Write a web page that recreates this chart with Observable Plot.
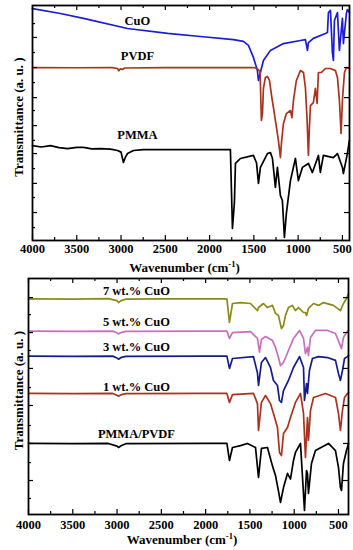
<!DOCTYPE html>
<html><head><meta charset="utf-8">
<script src="https://cdn.jsdelivr.net/npm/d3@7"></script>
<script src="https://cdn.jsdelivr.net/npm/@observablehq/plot@0.6"></script>
<style>
body{margin:0;background:#fff;}
#chart{width:353px;height:550px;}
#chart svg{display:block;}
#chart svg text{font-family:'Liberation Serif','Times New Roman',serif;font-weight:700;fill:#000;}
</style></head><body><div id="chart"></div>
<script>
// x-axis tick labels (wavenumber, cm-1)
const xMajor = [4000, 3500, 3000, 2500, 2000, 1500, 1000, 500];
const xMinor = [3750, 3250, 2750, 2250, 1750, 1250, 750];

// ---- top panel: pure materials [wavenumber, transmittance a.u.]
const cuo = [[4000,98.7],[3684,96.6],[3424,94.5],[2927,90.2],[2474,88.1],[2103,86.8],[1731,85.5],[1618,84.7],[1561,83.0],[1505,77.9],[1460,72.3],[1448,68.1],[1426,71.5],[1392,76.6],[1313,80.9],[1166,83.8],[974,85.1],[918,85.5],[895,80.9],[884,84.2],[828,86.0],[692,88.1],[669,88.5],[658,97.0],[635,97.9],[613,80.0],[602,76.6],[590,93.6],[556,97.0],[534,80.9],[500,94.5],[489,83.8],[455,96.6],[444,98.3],[421,97.0]];
const pvdf = [[4000,73.6],[3500,73.5],[3100,73.6],[3040,73.2],[3025,72.2],[3010,73.0],[2985,72.8],[2960,73.4],[2500,73.6],[2000,73.6],[1505,73.6],[1466,73.2],[1430,72.0],[1415,51.1],[1403,54.0],[1392,64.7],[1370,69.4],[1347,69.8],[1324,68.1],[1297,60.8],[1279,56.6],[1245,48.1],[1223,42.6],[1200,35.3],[1189,41.3],[1166,49.8],[1133,54.0],[1087,55.3],[1070,52.3],[1053,59.6],[1020,68.1],[974,72.3],[940,71.5],[918,65.1],[900,52.3],[884,36.2],[873,48.1],[861,57.4],[828,58.7],[805,64.7],[786,58.3],[771,71.5],[737,71.5],[692,73.2],[635,73.2],[579,72.3],[556,69.4],[534,59.6],[515,45.5],[500,59.6],[477,71.5],[455,73.6],[421,73.2]];
const pmma = [[4000,40.4],[3900,39.8],[3797,40.4],[3700,39.5],[3605,39.1],[3500,39.6],[3424,39.6],[3330,39.0],[3232,39.1],[3119,38.9],[3040,38.3],[3000,37.6],[2973,33.2],[2950,35.5],[2927,37.0],[2860,38.3],[2747,38.7],[2500,38.7],[2000,38.7],[1765,38.7],[1742,5.1],[1720,16.0],[1708,32.8],[1652,34.9],[1505,36.2],[1470,33.0],[1448,24.3],[1426,31.1],[1347,37.0],[1313,37.4],[1290,34.9],[1257,22.6],[1234,31.1],[1200,19.1],[1178,17.0],[1155,1.3],[1133,11.5],[1087,25.5],[1031,34.9],[997,25.5],[952,31.1],[884,32.8],[839,28.9],[771,36.2],[749,29.0],[715,36.2],[602,35.3],[556,37.0],[500,31.1],[489,28.5],[444,37.0],[421,42.6]];

// ---- bottom panel: composites
const cuo7 = [[4000,91.4],[3500,91.3],[3100,91.5],[3000,90.6],[2984,89.8],[2960,90.5],[2900,91.3],[2500,91.4],[2000,91.4],[1760,91.4],[1731,81.4],[1697,89.4],[1607,89.8],[1494,89.4],[1415,86.4],[1403,87.7],[1347,89.4],[1302,87.7],[1245,88.6],[1211,85.2],[1178,84.3],[1144,78.8],[1121,80.1],[1099,84.3],[1065,87.7],[1020,88.6],[986,86.4],[952,87.7],[895,85.6],[873,85.6],[861,84.3],[839,87.3],[782,89.4],[726,88.6],[669,89.8],[557,88.6],[478,86.4],[444,89.4],[410,91.5],[387,93.6]];
const cuo5 = [[4000,77.7],[3500,77.6],[3050,77.7],[3000,77.0],[2984,76.5],[2950,77.2],[2900,77.6],[2000,77.7],[1760,77.7],[1731,74.6],[1697,77.1],[1494,77.5],[1415,74.6],[1392,68.8],[1370,74.2],[1324,75.4],[1245,73.7],[1211,70.8],[1178,66.5],[1155,63.1],[1121,64.4],[1065,69.5],[1008,74.6],[940,78.0],[895,74.6],[873,68.2],[850,70.8],[839,67.4],[816,75.0],[760,78.0],[624,78.0],[534,76.7],[489,72.5],[466,70.3],[444,75.0],[410,77.1],[387,78.0]];
const cuo3 = [[4000,67.1],[3500,67.0],[3050,67.1],[3000,66.3],[2984,65.8],[2950,66.6],[2900,67.0],[2000,67.1],[1760,67.1],[1731,61.9],[1697,66.1],[1460,66.9],[1415,60.0],[1403,54.7],[1370,64.4],[1324,66.5],[1268,62.3],[1234,56.8],[1189,54.7],[1166,48.3],[1144,47.5],[1121,52.5],[1065,56.8],[1008,62.3],[940,66.9],[895,62.3],[884,48.3],[861,55.5],[850,51.3],[828,61.0],[794,66.1],[726,66.9],[624,66.5],[534,65.3],[500,59.7],[478,56.8],[455,61.0],[432,66.1],[399,66.9],[387,67.4]];
const cuo1 = [[4000,51.3],[3500,51.2],[3050,51.3],[3000,50.5],[2984,50.1],[2950,50.8],[2900,51.2],[2000,51.3],[1760,51.3],[1731,47.5],[1697,50.8],[1460,51.3],[1415,47.0],[1403,35.6],[1370,47.5],[1324,50.4],[1268,47.0],[1234,42.8],[1189,36.9],[1166,26.3],[1144,25.0],[1121,34.3],[1076,36.9],[1042,41.1],[986,47.5],[929,51.3],[895,42.8],[873,24.2],[850,41.1],[839,31.4],[816,44.1],[782,49.6],[647,51.3],[534,49.6],[500,42.8],[478,35.6],[455,44.1],[432,49.6],[399,51.3],[387,51.5]];
const blend = [[4000,30.1],[3500,30.0],[3100,30.1],[3000,29.0],[2984,28.4],[2950,29.2],[2900,30.0],[2000,30.1],[1760,30.1],[1731,22.9],[1697,28.4],[1607,29.2],[1528,30.1],[1437,28.4],[1403,15.7],[1370,28.0],[1302,28.4],[1245,20.5],[1211,16.5],[1178,10.0],[1155,5.1],[1121,11.4],[1076,17.4],[1042,15.0],[1008,22.9],[986,26.3],[929,30.1],[884,1.7],[861,18.6],[850,17.4],[839,8.9],[805,21.6],[760,27.1],[613,30.1],[534,27.1],[500,19.9],[478,11.4],[466,10.2],[444,21.6],[410,27.1],[387,30.0]];

const topSeries = [
  {name: "CuO", data: cuo, color: "#1c1cd2", dy: -9},
  {name: "PVDF", data: pvdf, color: "#a8341f", dy: -12},
  {name: "PMMA", data: pmma, color: "#000000", dy: -15}
];
const botSeries = [
  {name: "7 wt.% CuO", data: cuo7, color: "#8a8a1c", dy: -8},
  {name: "5 wt.% CuO", data: cuo5, color: "#c670bd", dy: -9},
  {name: "3 wt.% CuO", data: cuo3, color: "#141c8c", dy: -9},
  {name: "1 wt.% CuO", data: cuo1, color: "#a8341f", dy: -7},
  {name: "PMMA/PVDF", data: blend, color: "#000000", dy: -10}
];
const topYMajor = [86.4, 73.6, 60.8, 48.9, 37.0, 24.3, 11.9];
const topYMinor = [92.3, 80.0, 67.2, 55.3, 42.6, 30.6, 18.3, 5.5];
const botYMajor = [91.9, 77.1, 61.9, 46.2, 30.1, 14.4];
const botYMinor = [84.7, 69.5, 53.8, 37.7, 22.0, 6.8];
const yLabel = "Transmittance (a. u. )";
const FONT = "'Liberation Serif','Times New Roman',serif";

// value of a series at a given wavenumber (linear between read points)
function valueAt(data, x) {
  for (let i = 0; i < data.length - 1; i++) {
    const [x0, y0] = data[i], [x1, y1] = data[i + 1];
    if (x <= x0 && x >= x1) return y0 + (y1 - y0) * (x0 - x) / (x0 - x1);
  }
  return data[0][1];
}

function panel(o) {
  const W = 353;
  const innerW = W - o.ml - o.mr, innerH = o.h - o.mt - o.mb;
  const L = 5, l = 3;
  const marks = [];
  for (const s of o.series) {
    marks.push(Plot.line(s.data, {x: d => d[0], y: d => d[1], stroke: s.color, strokeWidth: 1.7, strokeLinejoin: "round"}));
  }
  for (const s of o.series) {
    const base = valueAt(s.data, o.labelX);
    marks.push(Plot.text([s.name], {x: () => o.labelX, y: () => base, text: d => d, dy: s.dy, fontSize: 12.5, fontWeight: "bold", fontFamily: FONT, fill: "#000"}));
  }
  marks.push(
    Plot.tickX(xMajor, {x: d => d, insetTop: innerH - L, stroke: "#000", strokeWidth: 1.2}),
    Plot.tickX(xMinor, {x: d => d, insetTop: innerH - l, stroke: "#000", strokeWidth: 1.2}),
    Plot.tickX(xMajor, {x: d => d, insetBottom: innerH - L, stroke: "#000", strokeWidth: 1.2}),
    Plot.tickX(xMinor, {x: d => d, insetBottom: innerH - l, stroke: "#000", strokeWidth: 1.2}),
    Plot.tickY(o.yMaj, {y: d => d, insetRight: innerW - L, stroke: "#000", strokeWidth: 1.2}),
    Plot.tickY(o.yMin, {y: d => d, insetRight: innerW - l, stroke: "#000", strokeWidth: 1.2}),
    Plot.tickY(o.yMaj, {y: d => d, insetLeft: innerW - L, stroke: "#000", strokeWidth: 1.2}),
    Plot.axisX({anchor: "bottom", ticks: xMajor, tickSize: 0, tickPadding: o.tp, tickFormat: d => String(d), fontSize: 12.5, fontWeight: "bold", fontFamily: FONT, label: null}),
    Plot.text([yLabel], {frameAnchor: "left", textAnchor: "middle", rotate: -90, dx: o.ydx, dy: -6, text: d => d, fontSize: 13, fontWeight: "bold", fontFamily: FONT}),
    Plot.frame({stroke: "#000", strokeWidth: 1.8})
  );
  const svg = Plot.plot({
    width: W, height: o.h,
    marginTop: o.mt, marginBottom: o.mb, marginLeft: o.ml, marginRight: o.mr,
    x: {domain: o.xDomain},
    y: {domain: [0, 100], axis: null},
    style: {background: "#fff", fontFamily: FONT, overflow: "visible"},
    marks
  });
  const t = d3.select(svg).append("text")
    .attr("x", o.ml + innerW / 2 - 6).attr("y", o.wy)
    .attr("text-anchor", "middle").attr("font-size", 13).attr("font-weight", "bold").attr("font-family", FONT);
  t.append("tspan").text("Wavenumber (cm");
  t.append("tspan").attr("font-size", 8.5).attr("dy", -5).text("-1");
  t.append("tspan").attr("dy", 5).text(")");
  return svg;
}

const chart = document.getElementById("chart");
chart.append(panel({series: topSeries, xDomain: [4000, 420], h: 275, mt: 5, mb: 35, ml: 32, mr: 4,
  yMaj: topYMajor, yMin: topYMinor, tp: 4, ydx: -14, wy: 272, labelX: 2815}));
chart.append(panel({series: botSeries, xDomain: [4000, 387], h: 275, mt: 3, mb: 36, ml: 28, mr: 5,
  yMaj: botYMajor, yMin: botYMinor, tp: 6, ydx: -10, wy: 269, labelX: 2781}));
</script>
</body></html>
